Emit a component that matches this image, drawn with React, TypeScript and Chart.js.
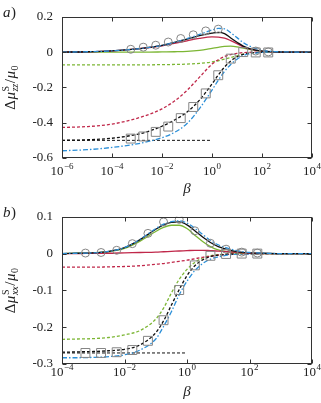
import React, { useEffect, useRef } from 'react';
import { Chart, registerables } from 'chart.js';
Chart.register(...registerables);

const FONT = '"Liberation Serif", "DejaVu Serif", serif';
const TEXT = '#222';
const RED = '#c0284a';
const GREEN = '#7cb634';
const BLUE = '#2b8fd8';
const BLACK = '#111';
const GRAY = '#858585';

// ---------- Panel a ----------
const aLogBeta = [-6, -5, -4, -3, -2.5, -2, -1.5, -1, -0.5, 0, 0.25, 0.5, 0.75, 1, 1.25, 1.5, 2, 2.5, 3, 4];
const aBlackSolid = [0, 0.002, 0.007, 0.018, 0.027, 0.038, 0.055, 0.074, 0.093, 0.107, 0.112, 0.105, 0.08, 0.056, 0.034, 0.02, 0.006, 0.002, 0, 0];
const aRedSolid = [0, 0.002, 0.007, 0.018, 0.026, 0.036, 0.05, 0.064, 0.078, 0.086, 0.085, 0.079, 0.065, 0.048, 0.03, 0.018, 0.005, 0.001, 0, 0];
const aBlueSolid = [0, 0.002, 0.007, 0.018, 0.027, 0.038, 0.055, 0.076, 0.1, 0.125, 0.134, 0.132, 0.11, 0.082, 0.054, 0.034, 0.01, 0.003, 0.001, 0];
const aGreenSolid = [0, 0, 0, 0, 0, 0.001, 0.002, 0.004, 0.01, 0.021, 0.027, 0.032, 0.034, 0.03, 0.022, 0.015, 0.005, 0.001, 0, 0];
const aBlackDashed = [-0.5, -0.497, -0.488, -0.466, -0.447, -0.42, -0.385, -0.34, -0.272, -0.18, -0.13, -0.085, -0.05, -0.027, -0.013, -0.006, -0.001, 0, 0, 0];
const aRedDashed = [-0.427, -0.422, -0.408, -0.375, -0.352, -0.322, -0.277, -0.217, -0.142, -0.068, -0.043, -0.025, -0.014, -0.007, -0.003, -0.001, 0, 0, 0, 0];
const aBlueDashed = [-0.559, -0.553, -0.54, -0.52, -0.505, -0.485, -0.455, -0.405, -0.32, -0.215, -0.16, -0.11, -0.07, -0.04, -0.02, -0.01, -0.002, 0, 0, 0];
const aGreenDashed = [-0.072, -0.072, -0.072, -0.072, -0.072, -0.071, -0.07, -0.068, -0.064, -0.056, -0.049, -0.04, -0.031, -0.021, -0.012, -0.007, -0.001, 0, 0, 0];
const aMarkLogBeta = [-3.25, -2.75, -2.25, -1.75, -1.25, -0.75, -0.25, 0.25, 0.75, 1.25, 1.75, 2.25];
const aCircles = [0.016, 0.028, 0.039, 0.057, 0.077, 0.098, 0.12, 0.13, null, null, 0.006, 0.001];
const aSquares = [-0.49, -0.478, -0.452, -0.422, -0.374, -0.311, -0.234, -0.131, -0.037, 0, -0.002, -0.002];
const aRefLogBeta = [-6, 0];
const aRefValue = [-0.5, -0.5];
const aXTickExp = [-6, -4, -2, 0, 2, 4];
const aYTicks = [-0.6, -0.4, -0.2, 0, 0.2];

// ---------- Panel b ----------
const bLogBeta = [-4, -3.5, -3, -2.5, -2, -1.5, -1, -0.75, -0.5, -0.25, 0, 0.25, 0.5, 0.75, 1, 1.5, 2, 2.5, 3, 4];
const bBlackSolid = [0, 0.001, 0.002, 0.006, 0.016, 0.038, 0.066, 0.078, 0.085, 0.086, 0.078, 0.062, 0.045, 0.03, 0.019, 0.007, 0.002, 0.001, 0, 0];
const bGreenSolid = [0, 0.001, 0.002, 0.005, 0.014, 0.034, 0.06, 0.071, 0.077, 0.077, 0.068, 0.05, 0.033, 0.019, 0.01, 0.003, 0.001, 0, 0, 0];
const bBlueSolid = [0, 0.001, 0.002, 0.006, 0.016, 0.039, 0.068, 0.08, 0.087, 0.089, 0.083, 0.069, 0.052, 0.036, 0.024, 0.01, 0.003, 0.001, 0, 0];
const bRedSolid = [0, 0, 0.001, 0.001, 0.002, 0.003, 0.004, 0.005, 0.006, 0.007, 0.008, 0.009, 0.009, 0.008, 0.007, 0.004, 0.001, 0, 0, 0];
const bRedDashed = [-0.037, -0.037, -0.037, -0.036, -0.035, -0.033, -0.029, -0.027, -0.024, -0.021, -0.018, -0.014, -0.01, -0.007, -0.004, -0.001, 0, 0, 0, 0];
const bGreenDashed = [-0.233, -0.232, -0.231, -0.228, -0.221, -0.209, -0.178, -0.148, -0.107, -0.07, -0.043, -0.024, -0.012, -0.006, -0.003, -0.001, 0, 0, 0, 0];
const bBlackDashed = [-0.268, -0.267, -0.266, -0.264, -0.26, -0.248, -0.215, -0.183, -0.14, -0.098, -0.06, -0.033, -0.017, -0.008, -0.004, -0.001, 0, 0, 0, 0];
const bBlueDashed = [-0.283, -0.283, -0.282, -0.28, -0.275, -0.262, -0.232, -0.198, -0.158, -0.112, -0.075, -0.046, -0.027, -0.015, -0.009, -0.002, -0.001, 0, 0, 0];
const bMarkLogBeta = [-3.25, -2.75, -2.25, -1.75, -1.25, -0.75, -0.25, 0.25, 0.75, 1.25, 1.75, 2.25];
const bCircles = [0.0015, 0.003, 0.009, 0.027, 0.055, 0.086, 0.093, 0.062, 0.028, 0.012, 0.004, 0.0015];
const bSquares = [-0.27, -0.27, -0.268, -0.262, -0.237, -0.181, -0.099, -0.032, -0.006, -0.001, 0, 0];
const bRefLogBeta = [-4, 0];
const bRefValue = [-0.27, -0.27];
const bXTickExp = [-4, -2, 0, 2, 4];
const bYTicks = [-0.3, -0.2, -0.1, 0, 0.1];

type Panel = {
  label: string;
  sub: string;
  logBeta: number[];
  blackSolid: number[]; redSolid: number[]; blueSolid: number[]; greenSolid: number[];
  blackDashed: number[]; redDashed: number[]; blueDashed: number[]; greenDashed: number[];
  markLogBeta: number[]; circles: (number | null)[]; squares: number[];
  refLogBeta: number[]; refValue: number[];
  xTickExp: number[]; yTicks: number[];
  height: number; padTop: number; xAxisH: number; tickLabelGap: number; betaGap: number;
};

const panels: Panel[] = [
  {
    label: 'a', sub: 'zz', logBeta: aLogBeta,
    blackSolid: aBlackSolid, redSolid: aRedSolid, blueSolid: aBlueSolid, greenSolid: aGreenSolid,
    blackDashed: aBlackDashed, redDashed: aRedDashed, blueDashed: aBlueDashed, greenDashed: aGreenDashed,
    markLogBeta: aMarkLogBeta, circles: aCircles, squares: aSquares,
    refLogBeta: aRefLogBeta, refValue: aRefValue, xTickExp: aXTickExp, yTicks: aYTicks,
    height: 200, padTop: 9, xAxisH: 42, tickLabelGap: 17, betaGap: 35,
  },
  {
    label: 'b', sub: 'xx', logBeta: bLogBeta,
    blackSolid: bBlackSolid, redSolid: bRedSolid, blueSolid: bBlueSolid, greenSolid: bGreenSolid,
    blackDashed: bBlackDashed, redDashed: bRedDashed, blueDashed: bBlueDashed, greenDashed: bGreenDashed,
    markLogBeta: bMarkLogBeta, circles: bCircles, squares: bSquares,
    refLogBeta: bRefLogBeta, refValue: bRefValue, xTickExp: bXTickExp, yTicks: bYTicks,
    height: 203, padTop: 15, xAxisH: 39, tickLabelGap: 12, betaGap: 32,
  },
];

const pts = (logs: number[], ys: (number | null)[]) => logs.map((l, i) => ({ x: Math.pow(10, l), y: ys[i] }));

const line = (logs: number[], ys: number[], color: string, dash: number[], width = 1.3) => ({
  data: pts(logs, ys),
  borderColor: color,
  borderWidth: width,
  borderDash: dash,
  pointRadius: 0,
  fill: false,
  cubicInterpolationMode: 'monotone' as const,
});

const DASH = [3, 2];
const DASHDOT = [5, 2, 1.5, 2];

function drawYTitle(ctx: CanvasRenderingContext2D, cx: number, cy: number, sub: string) {
  const big = 15, small = 10;
  type Seg = { parts: { t: string; font: string; dy: number }[] };
  const segs: Seg[] = [
    { parts: [{ t: 'Δ', font: `${big}px ${FONT}`, dy: 0 }] },
    { parts: [{ t: 'μ', font: `italic ${big}px ${FONT}`, dy: 0 }] },
    { parts: [{ t: 'S', font: `${small}px ${FONT}`, dy: -6 }, { t: sub, font: `italic ${small}px ${FONT}`, dy: 3 }] },
    { parts: [{ t: '/', font: `${big}px ${FONT}`, dy: 0 }] },
    { parts: [{ t: 'μ', font: `italic ${big}px ${FONT}`, dy: 0 }] },
    { parts: [{ t: '0', font: `${small}px ${FONT}`, dy: 3 }] },
  ];
  const widths = segs.map((s) =>
    Math.max(...s.parts.map((p) => { ctx.font = p.font; return ctx.measureText(p.t).width; })) + 0.5);
  const total = widths.reduce((a, b) => a + b, 0);
  ctx.save();
  ctx.translate(cx, cy);
  ctx.rotate(-Math.PI / 2);
  ctx.textAlign = 'left';
  ctx.textBaseline = 'alphabetic';
  ctx.fillStyle = TEXT;
  let u = -total / 2;
  segs.forEach((s, i) => {
    s.parts.forEach((p) => { ctx.font = p.font; ctx.fillText(p.t, u, p.dy); });
    u += widths[i];
  });
  ctx.restore();
}

function makeChart(canvas: HTMLCanvasElement, p: Panel) {
  const decor = {
    id: 'decor',
    afterDraw(chart: any) {
      const { ctx, chartArea } = chart;
      const { left, right, top, bottom } = chartArea;
      const xs = chart.scales.x, ys = chart.scales.y;
      ctx.save();
      ctx.strokeStyle = '#333';
      ctx.lineWidth = 1;
      const L = Math.round(left) + 0.5, R = Math.round(right) - 0.5, T = Math.round(top) + 0.5, B = Math.round(bottom) - 0.5;
      ctx.strokeRect(L, T, R - L, B - T);
      ctx.beginPath();
      p.xTickExp.forEach((e) => {
        const px = Math.round(xs.getPixelForValue(Math.pow(10, e))) + 0.5;
        ctx.moveTo(px, B); ctx.lineTo(px, B - 4);
        ctx.moveTo(px, T); ctx.lineTo(px, T + 4);
      });
      p.yTicks.forEach((v) => {
        const py = Math.round(ys.getPixelForValue(v)) + 0.5;
        ctx.moveTo(L, py); ctx.lineTo(L + 4, py);
        ctx.moveTo(R, py); ctx.lineTo(R - 4, py);
      });
      ctx.stroke();
      // x tick labels 10^n
      ctx.fillStyle = TEXT;
      ctx.textBaseline = 'alphabetic';
      ctx.textAlign = 'left';
      p.xTickExp.forEach((e) => {
        const px = xs.getPixelForValue(Math.pow(10, e));
        const sup = e < 0 ? '−' + Math.abs(e) : String(e);
        ctx.font = `13px ${FONT}`;
        const wb = ctx.measureText('10').width;
        ctx.font = `9px ${FONT}`;
        const ws = ctx.measureText(sup).width;
        const x0 = px - (wb + ws + 0.5) / 2;
        ctx.font = `13px ${FONT}`;
        ctx.fillText('10', x0, bottom + p.tickLabelGap);
        ctx.font = `9px ${FONT}`;
        ctx.fillText(sup, x0 + wb + 0.5, bottom + p.tickLabelGap - 6);
      });
      // x title
      ctx.font = `italic 15px ${FONT}`;
      ctx.textAlign = 'center';
      ctx.fillText('β', (left + right) / 2, bottom + p.betaGap);
      // panel label
      ctx.textAlign = 'left';
      ctx.font = `italic 15px ${FONT}`;
      ctx.fillText(p.label, 3, 17);
      const wl = ctx.measureText(p.label).width;
      ctx.font = `15px ${FONT}`;
      ctx.fillText(')', 3 + wl + 0.5, 17);
      ctx.restore();
      drawYTitle(ctx, 15, (top + bottom) / 2, p.sub);
    },
  };

  const xMin = Math.pow(10, p.xTickExp[0]);
  const xMax = Math.pow(10, p.xTickExp[p.xTickExp.length - 1]);
  const yMin = p.yTicks[0], yMax = p.yTicks[p.yTicks.length - 1];

  return new Chart(canvas, {
    type: 'line',
    data: {
      datasets: [
        { data: pts(p.markLogBeta, p.circles), showLine: false, pointStyle: 'circle', pointRadius: 4, pointBorderColor: GRAY, pointBackgroundColor: 'rgba(0,0,0,0)', pointBorderWidth: 1 },
        { data: pts(p.markLogBeta, p.squares), showLine: false, pointStyle: 'rect', pointRadius: 6.3, pointBorderColor: GRAY, pointBackgroundColor: 'rgba(0,0,0,0)', pointBorderWidth: 1 },
        line(p.logBeta, p.blueSolid, BLUE, DASHDOT),
        line(p.logBeta, p.blackSolid, BLACK, []),
        line(p.logBeta, p.redSolid, RED, []),
        line(p.logBeta, p.greenSolid, GREEN, []),
        line(p.logBeta, p.blueDashed, BLUE, DASHDOT),
        line(p.logBeta, p.blackDashed, BLACK, DASH),
        line(p.logBeta, p.redDashed, RED, DASH),
        line(p.logBeta, p.greenDashed, GREEN, DASH),
        line(p.refLogBeta, p.refValue, BLACK, DASH, 1),
      ] as any,
    },
    options: {
      animation: false,
      responsive: false,
      devicePixelRatio: 1,
      layout: { padding: { top: p.padTop, right: 9, left: 0, bottom: 0 } },
      plugins: { legend: { display: false }, tooltip: { enabled: false } },
      elements: { line: { tension: 0 } },
      scales: {
        x: {
          type: 'logarithmic',
          min: xMin,
          max: xMax,
          grid: { display: false, drawTicks: false },
          border: { display: false },
          ticks: { display: false },
          afterBuildTicks: (s: any) => { s.ticks = p.xTickExp.map((e) => ({ value: Math.pow(10, e) })); },
          afterFit: (s: any) => { s.height = p.xAxisH; },
        },
        y: {
          type: 'linear',
          min: yMin,
          max: yMax,
          grid: { display: false, drawTicks: false },
          border: { display: false },
          afterBuildTicks: (s: any) => { s.ticks = p.yTicks.map((v) => ({ value: v })); },
          ticks: {
            padding: 9,
            color: TEXT,
            font: { family: FONT, size: 13 },
            callback: (v: any) => {
              const r = Math.round(Number(v) * 10) / 10;
              return r === 0 ? '0' : String(r);
            },
          },
          afterFit: (s: any) => { s.width = 62; },
        },
      },
    },
    plugins: [decor],
  } as any);
}

function PanelChart({ p }: { p: Panel }) {
  const ref = useRef<HTMLCanvasElement | null>(null);
  useEffect(() => {
    if (!ref.current) return;
    const c = makeChart(ref.current, p);
    return () => c.destroy();
  }, [p]);
  return <canvas ref={ref} width={321} height={p.height} style={{ display: 'block', width: 321, height: p.height }} />;
}

export default function App() {
  return (
    <div style={{ position: 'absolute', left: 0, top: 0, width: 321, height: 403, background: '#fff' }}>
      {panels.map((p) => <PanelChart key={p.label} p={p} />)}
    </div>
  );
}
